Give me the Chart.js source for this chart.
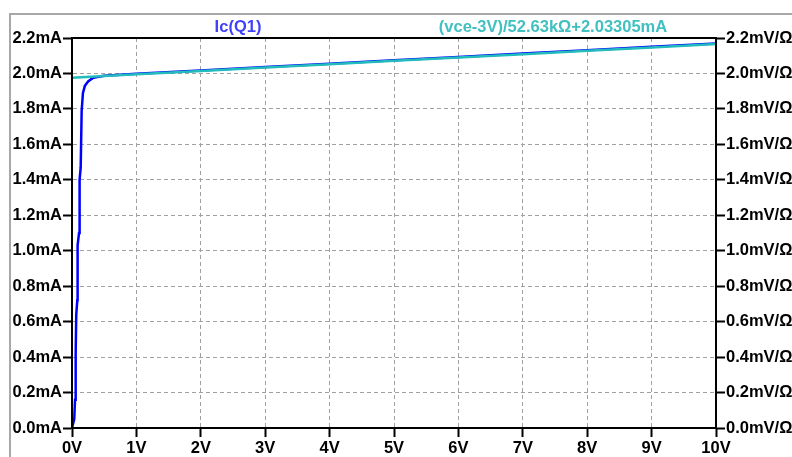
<!DOCTYPE html>
<html>
<head>
<meta charset="utf-8">
<script src="https://cdn.jsdelivr.net/npm/chart.js@4/dist/chart.umd.min.js"></script>
<style>
html,body{margin:0;padding:0;background:#fff;}
#wrap{width:792px;height:457px;position:relative;}
</style>
</head>
<body>
<div id="wrap"><canvas id="c" width="792" height="457"></canvas></div>
<script>
// ---- data ----
const seriesNames = ["Ic(Q1)", "(vce-3V)/52.63kΩ+2.03305mA"];
const icVce = [0, 0.035, 0.047, 0.052, 0.062, 0.066, 0.082, 0.087, 0.109, 0.118, 0.135, 0.15, 0.17, 0.2, 0.25, 0.33, 0.5, 1, 2, 3, 4, 5, 6, 7, 8, 9, 10];
const icValues = [0, 0.05, 0.16, 0.33, 0.42, 0.64, 0.72, 1.03, 1.1, 1.40, 1.47, 1.79, 1.89, 1.93, 1.955, 1.976, 1.987, 1.998, 2.017, 2.036, 2.055, 2.074, 2.093, 2.112, 2.131, 2.150, 2.169];
const lineVce = [0, 1, 2, 3, 4, 5, 6, 7, 8, 9, 10];
const lineValues = [1.976, 1.995, 2.014, 2.033, 2.052, 2.071, 2.090, 2.109, 2.128, 2.147, 2.166];
const xTickUnit = "V";
const leftTickUnit = "mA";
const rightTickUnit = "mV/Ω";

const FONT = "'Liberation Sans', Arial, sans-serif";
const FSIZE = 16.5;

const frame = {
  id: 'frame',
  beforeDraw(chart) {
    const ctx = chart.ctx;
    ctx.save();
    ctx.fillStyle = '#fff';
    ctx.fillRect(0, 0, chart.width, chart.height);
    ctx.strokeStyle = '#a8a8a8';
    ctx.lineWidth = 2;
    ctx.beginPath();
    ctx.moveTo(10, 457);
    ctx.lineTo(10, 14);
    ctx.lineTo(792, 14);
    ctx.stroke();
    ctx.restore();
  },
  afterDraw(chart) {
    const ctx = chart.ctx;
    const a = chart.chartArea;
    ctx.save();
    ctx.strokeStyle = '#000';
    ctx.lineWidth = 2;
    ctx.strokeRect(a.left, a.top, a.right - a.left, a.bottom - a.top);
    ctx.font = "bold " + FSIZE + "px " + FONT;
    ctx.textAlign = 'center';
    ctx.textBaseline = 'middle';
    ctx.fillStyle = '#4040ff';
    ctx.fillText(seriesNames[0], 238, 27);
    ctx.fillStyle = '#40c0c0';
    ctx.fillText(seriesNames[1], 553, 27);
    ctx.restore();
  }
};

const gridCommon = {
  color: '#a0a0a0',
  lineWidth: 1,
  tickColor: '#000',
  tickWidth: 2,
  tickLength: 9,
  tickBorderDash: []
};
const tickFont = { family: FONT, size: FSIZE, weight: 'bold' };

new Chart(document.getElementById('c'), {
  type: 'line',
  data: {
    datasets: [
      {
        label: seriesNames[0],
        data: icVce.map((v, i) => ({ x: v, y: icValues[i] })),
        borderColor: '#0000ff',
        borderWidth: 2.5,
        pointRadius: 0,
        tension: 0,
        yAxisID: 'y',
        order: 2
      },
      {
        label: seriesNames[1],
        data: lineVce.map((v, i) => ({ x: v, y: lineValues[i] })),
        borderColor: '#22bcbc',
        borderWidth: 2.5,
        pointRadius: 0,
        tension: 0,
        yAxisID: 'y2',
        order: 1
      }
    ]
  },
  options: {
    responsive: false,
    animation: false,
    events: [],
    layout: { padding: { top: 38, left: 0, right: 0, bottom: 0 } },
    plugins: { legend: { display: false }, tooltip: { enabled: false }, title: { display: false } },
    scales: {
      x: {
        type: 'linear', min: 0, max: 10,
        ticks: { stepSize: 1, color: '#000', font: tickFont, padding: 2, maxRotation: 0,
          callback: v => v + xTickUnit },
        grid: gridCommon,
        border: { display: true, color: '#000', width: 2, dash: [4, 3] },
        afterFit: s => { s.height = 29; }
      },
      y: {
        type: 'linear', position: 'left', min: 0, max: 2.2,
        ticks: { stepSize: 0.2, color: '#000', font: tickFont, padding: 1,
          callback: v => v.toFixed(1) + leftTickUnit },
        grid: gridCommon,
        border: { display: true, color: '#000', width: 2, dash: [4, 3] },
        afterFit: s => { s.width = 72; }
      },
      y2: {
        type: 'linear', position: 'right', min: 0, max: 2.2,
        ticks: { stepSize: 0.2, color: '#000', font: tickFont, padding: 1,
          callback: v => v.toFixed(1) + rightTickUnit },
        grid: Object.assign({}, gridCommon, { drawOnChartArea: false }),
        border: { display: true, color: '#000', width: 2 },
        afterFit: s => { s.width = 76; }
      }
    }
  },
  plugins: [frame]
});
</script>
</body>
</html>
